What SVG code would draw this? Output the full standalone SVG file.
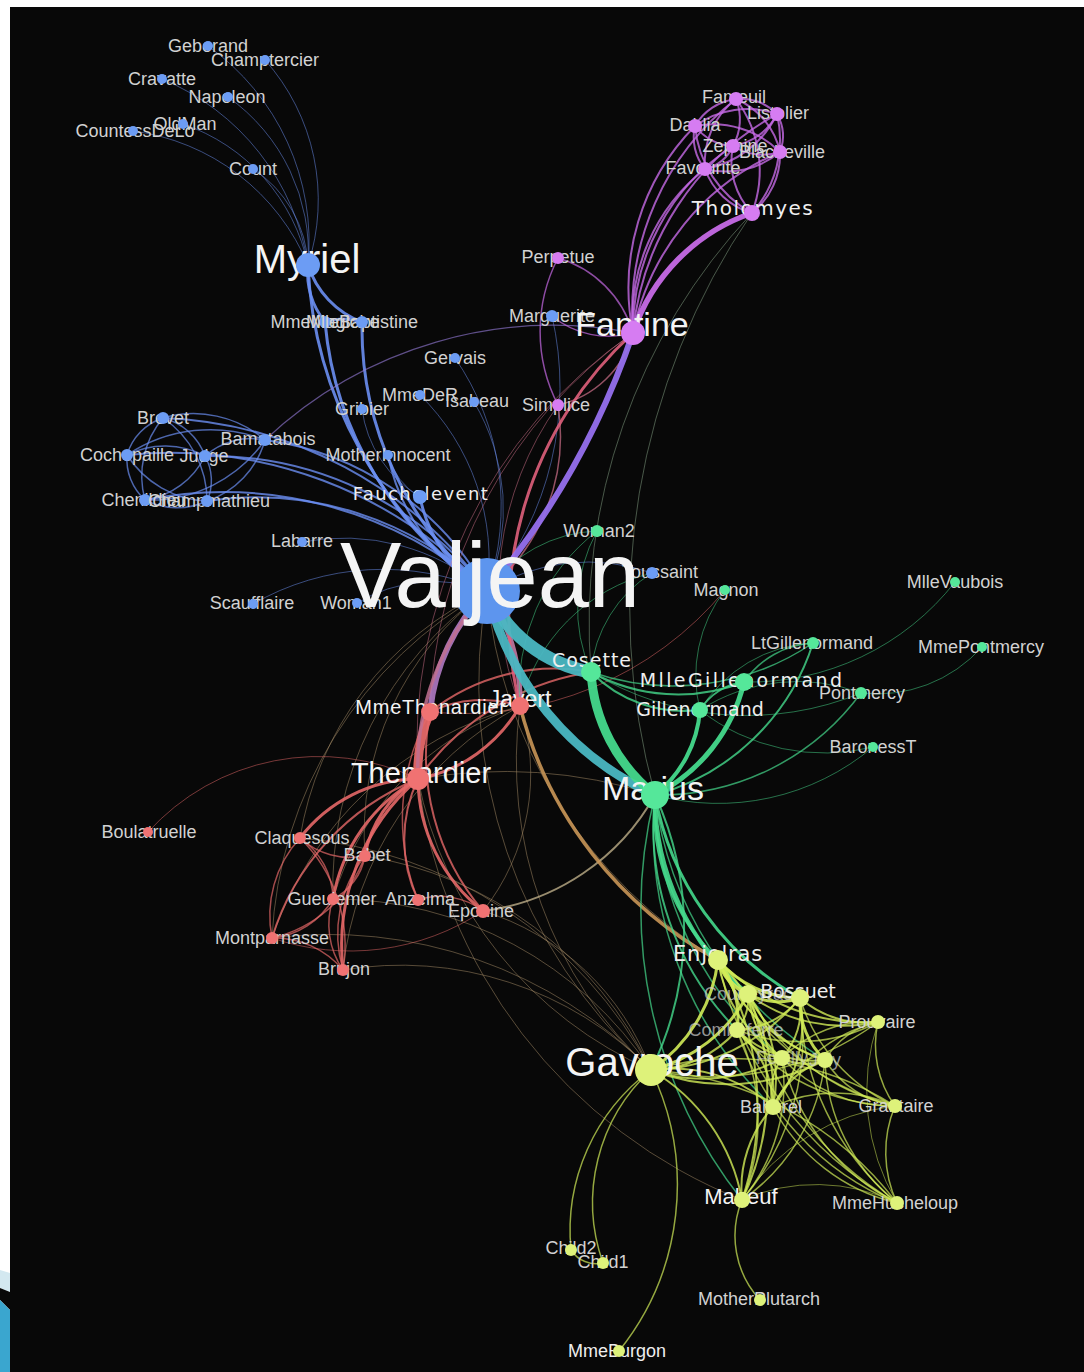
<svg xmlns="http://www.w3.org/2000/svg" width="1084" height="1372" viewBox="0 0 1084 1372">
<style>
#connectors path{fill:none;stroke-linecap:round}
.b{stroke:#6b8ff2}.p{stroke:#c66ae6}.r{stroke:#e56868}.g{stroke:#45d98c}.y{stroke:#d2ec58}.x{stroke:#a88e68}.k{stroke:#d0708a}
.t1{stroke-width:1;stroke-opacity:.5}.t15{stroke-width:1.5;stroke-opacity:.7}.t2{stroke-width:2;stroke-opacity:.8}.t3{stroke-width:3;stroke-opacity:.9}.t4{stroke-width:4;stroke-opacity:.92}.t5{stroke-width:5.5;stroke-opacity:.95}
.nb{fill:#6c9cf4}.np{fill:#d67cf2}.nr{fill:#f07272}.ng{fill:#55e79a}.ny{fill:#def27a}
.s{font-family:"Liberation Sans",Arial,sans-serif;font-size:18px;fill:#d2d2d2;text-anchor:middle}
.L{font-family:"Liberation Sans",Arial,sans-serif;fill:#f4f4f4;text-anchor:middle}
.D{font-family:"DejaVu Sans",sans-serif;fill:#efefef;text-anchor:middle}
</style>
<rect x="0" y="0" width="1084" height="1372" fill="#ffffff"/>
<rect x="10" y="7" width="1074" height="1365" fill="#080808"/>
<polygon points="0,1270 10,1273 10,1292 0,1288" fill="#d3e8f0"/>
<polygon points="0,1288 10,1292 10,1310 0,1300" fill="#080808"/>
<polygon points="0,1300 10,1310 10,1372 0,1372" fill="#3aa6cf"/>

<g id="connectors">
<g class="b t1">
<path d="M308 265 A240 240 0 0 0 208 46"/>
<path d="M308 265 A210 210 0 0 0 265 60"/>
<path d="M308 265 A240 240 0 0 0 162 79"/>
<path d="M308 265 A190 190 0 0 0 228 97"/>
<path d="M308 265 A190 190 0 0 0 183 124"/>
<path d="M308 265 A220 220 0 0 0 133 131"/>
<path d="M308 265 A120 120 0 0 0 253 169"/>
<path d="M388 455 A70 70 0 0 0 420 497"/>
<path d="M362 409 A120 120 0 0 0 420 497"/>
<path d="M487 591 A220 220 0 0 0 302 542"/>
<path d="M487 591 A260 260 0 0 0 253 604"/>
<path d="M487 591 A150 150 0 0 0 357 603"/>
<path d="M487 591 A260 260 0 0 0 455 358"/>
<path d="M487 591 A230 230 0 0 0 420 395"/>
<path d="M487 591 A210 210 0 0 0 474 402"/>
<path d="M487 591 A320 320 0 0 0 552 316"/>
<path d="M487 591 A190 190 0 0 1 652 573"/>
</g>
<g class="b t15">
<path d="M163 418 A60 60 0 0 1 205 456"/>
<path d="M163 418 A90 90 0 0 0 145 500"/>
<path d="M163 418 A55 55 0 0 0 127 455"/>
<path d="M163 418 A100 100 0 0 1 207 501"/>
<path d="M205 456 A80 80 0 0 1 145 500"/>
<path d="M205 456 A85 85 0 0 0 127 455"/>
<path d="M205 456 A50 50 0 0 1 207 501"/>
<path d="M145 500 A55 55 0 0 1 127 455"/>
<path d="M145 500 A70 70 0 0 0 207 501"/>
<path d="M127 455 A100 100 0 0 0 207 501"/>
<path d="M265 440 A70 70 0 0 0 205 456"/>
<path d="M265 440 A90 90 0 0 1 207 501"/>
<path d="M265 440 A110 110 0 0 0 163 418"/>
<path d="M265 440 A140 140 0 0 1 145 500"/>
<path d="M265 440 A150 150 0 0 0 127 455"/>
</g>
<g class="b t2">
<path d="M388 455 A200 200 0 0 0 487 591"/>
<path d="M487 591 A420 420 0 0 0 163 418"/>
<path d="M487 591 A430 430 0 0 0 127 455"/>
<path d="M487 591 A400 400 0 0 0 145 500"/>
<path d="M487 591 A350 350 0 0 0 205 456"/>
<path d="M487 591 A330 330 0 0 0 207 501"/>
<path d="M487 591 A300 300 0 0 0 265 440"/>
</g>
<g class="b t3">
<path d="M308 265 A90 90 0 0 0 362 322"/>
<path d="M308 265 A80 80 0 0 0 325 322"/>
<path d="M325 322 A60 60 0 0 1 362 322"/>
<path d="M308 265 A420 420 0 0 0 487 591"/>
<path d="M362 322 A340 340 0 0 0 487 591"/>
<path d="M325 322 A360 360 0 0 0 487 591"/>
<path d="M420 497 A140 140 0 0 0 487 591"/>
</g>
<path d="M633 333 A420 420 0 0 0 265 440" stroke="#9a7ee0" stroke-width="1.2" stroke-opacity=".6"/>
<g class="p t2">
<path d="M633 333 A280 280 0 0 1 777 114"/>
<path d="M633 333 A270 270 0 0 1 736 99"/>
<path d="M633 333 A250 250 0 0 1 780 152"/>
<path d="M633 333 A190 190 0 0 1 705 169"/>
<path d="M633 333 A230 230 0 0 1 695 126"/>
<path d="M633 333 A220 220 0 0 1 733 146"/>
<path d="M752 213 A110 110 0 0 0 777 114"/>
<path d="M752 213 A120 120 0 0 0 736 99"/>
<path d="M752 213 A75 75 0 0 0 780 152"/>
<path d="M752 213 A70 70 0 0 1 705 169"/>
<path d="M752 213 A110 110 0 0 1 695 126"/>
<path d="M752 213 A75 75 0 0 1 733 146"/>
<path d="M777 114 A50 50 0 0 0 736 99"/>
<path d="M777 114 A45 45 0 0 1 780 152"/>
<path d="M777 114 A100 100 0 0 1 705 169"/>
<path d="M777 114 A90 90 0 0 0 695 126"/>
<path d="M777 114 A60 60 0 0 1 733 146"/>
<path d="M736 99 A75 75 0 0 1 780 152"/>
<path d="M736 99 A80 80 0 0 0 705 169"/>
<path d="M736 99 A55 55 0 0 0 695 126"/>
<path d="M736 99 A55 55 0 0 1 733 146"/>
<path d="M780 152 A85 85 0 0 1 705 169"/>
<path d="M780 152 A95 95 0 0 0 695 126"/>
<path d="M780 152 A55 55 0 0 1 733 146"/>
<path d="M705 169 A50 50 0 0 1 695 126"/>
<path d="M705 169 A40 40 0 0 0 733 146"/>
<path d="M695 126 A50 50 0 0 0 733 146"/>
</g>
<g class="p t15">
<path d="M633 333 A90 90 0 0 1 552 316"/>
<path d="M558 258 A160 160 0 0 0 558 405"/>
<path d="M558 258 A110 110 0 0 1 633 333"/>
</g>
<path d="M633 333 A190 190 0 0 1 752 213" class="p t5"/>
<g class="k t15">
<path d="M558 405 A100 100 0 0 0 633 333"/>
<path d="M558 405 A200 200 0 0 1 487 591"/>
</g>
<g class="k t1">
<path d="M558 405 A320 320 0 0 0 520 706"/>
<path d="M633 333 A500 500 0 0 0 418 779"/>
<path d="M633 333 A480 480 0 0 0 430 712"/>
</g>
<g stroke="#8aa88a" stroke-width="1" stroke-opacity=".5">
<path d="M752 213 A700 700 0 0 0 655 795"/>
<path d="M752 213 A600 600 0 0 0 591 672"/>
</g>
<g class="x t1">
<path d="M418 779 A400 400 0 0 0 651 1070"/>
<path d="M520 706 A420 420 0 0 0 651 1070"/>
<path d="M487 591 A520 520 0 0 0 651 1070"/>
<path d="M365 856 A380 380 0 0 1 651 1070"/>
<path d="M333 899 A380 380 0 0 1 651 1070"/>
<path d="M272 938 A450 450 0 0 1 651 1070"/>
<path d="M343 970 A350 350 0 0 1 651 1070"/>
<path d="M300 838 A440 440 0 0 1 651 1070"/>
<path d="M418 779 A500 500 0 0 1 655 795"/>
<path d="M487 591 A480 480 0 0 0 718 960"/>
<path d="M520 706 A360 360 0 0 0 272 938"/>
<path d="M520 706 A340 340 0 0 0 343 970"/>
<path d="M520 706 A290 290 0 0 0 333 899"/>
<path d="M520 706 A220 220 0 0 1 483 911"/>
<path d="M487 591 A330 330 0 0 0 300 838"/>
<path d="M487 591 A300 300 0 0 0 365 856"/>
<path d="M487 591 A360 360 0 0 0 333 899"/>
<path d="M487 591 A420 420 0 0 0 272 938"/>
<path d="M483 911 A260 260 0 0 1 651 1070"/>
<path d="M418 779 A520 520 0 0 0 742 1200"/>
</g>
<path d="M483 911 A230 230 0 0 0 655 795" stroke="#c8b890" stroke-width="2" stroke-opacity=".75"/>
<g class="r t15">
<path d="M300 838 A75 75 0 0 0 365 856"/>
<path d="M300 838 A75 75 0 0 1 333 899"/>
<path d="M300 838 A115 115 0 0 0 272 938"/>
<path d="M300 838 A150 150 0 0 1 343 970"/>
<path d="M365 856 A60 60 0 0 1 333 899"/>
<path d="M365 856 A130 130 0 0 1 272 938"/>
<path d="M365 856 A125 125 0 0 0 343 970"/>
<path d="M333 899 A80 80 0 0 1 272 938"/>
<path d="M333 899 A80 80 0 0 0 343 970"/>
<path d="M272 938 A90 90 0 0 1 343 970"/>
<path d="M430 712 A220 220 0 0 0 418 900"/>
<path d="M483 911 A70 70 0 0 0 418 900"/>
</g>
<g class="r t1">
<path d="M148 832 A230 230 0 0 1 418 779"/>
<path d="M483 911 A240 240 0 0 1 272 938"/>
<path d="M725 590 A340 340 0 0 1 430 712"/>
</g>
<g class="r t2">
<path d="M418 779 A250 250 0 0 0 272 938"/>
<path d="M418 779 A140 140 0 0 0 418 900"/>
<path d="M430 712 A240 240 0 0 0 483 911"/>
<path d="M520 706 A120 120 0 0 0 430 712"/>
<path d="M430 712 A200 200 0 0 1 591 672"/>
<path d="M418 779 A260 260 0 0 1 591 672"/>
</g>
<g class="r t3">
<path d="M418 779 A150 150 0 0 0 300 838"/>
<path d="M418 779 A110 110 0 0 0 365 856"/>
<path d="M418 779 A170 170 0 0 0 333 899"/>
<path d="M418 779 A220 220 0 0 0 343 970"/>
<path d="M418 779 A170 170 0 0 0 483 911"/>
<path d="M520 706 A150 150 0 0 1 418 779"/>
</g>
<path d="M430 712 A150 150 0 0 0 418 779" class="r" stroke-width="9" stroke-opacity=".95"/>
<path d="M487 591 A200 200 0 0 0 430 712" stroke="#b07ac4" stroke-width="6" stroke-opacity=".9"/>
<path d="M487 591 A260 260 0 0 0 418 779" stroke="#c07090" stroke-width="3.5" stroke-opacity=".85"/>
<path d="M487 591 A200 200 0 0 1 520 706" stroke="#c27aa4" stroke-width="5" stroke-opacity=".9"/>
<path d="M633 333 A380 380 0 0 0 520 706" stroke="#e0607c" stroke-width="3" stroke-opacity=".9"/>
<path d="M633 333 A800 800 0 0 1 487 591" stroke="#9670ee" stroke-width="6" stroke-opacity=".95"/>
<path d="M520 706 A400 400 0 0 0 718 960" stroke="#c99656" stroke-width="3.5" stroke-opacity=".9"/>
<g class="g t1">
<path d="M591 672 A300 300 0 0 0 861 693"/>
<path d="M591 672 A160 160 0 0 1 597 531"/>
<path d="M591 672 A130 130 0 0 1 652 573"/>
<path d="M655 795 A240 240 0 0 0 873 747"/>
<path d="M744 682 A260 260 0 0 0 955 582"/>
<path d="M982 647 A140 140 0 0 1 861 693"/>
<path d="M700 710 A200 200 0 0 0 873 747"/>
<path d="M700 710 A140 140 0 0 1 725 590"/>
<path d="M700 710 A180 180 0 0 1 861 693"/>
<path d="M700 710 A140 140 0 0 1 813 643"/>
<path d="M597 531 A200 200 0 0 0 520 706"/>
<path d="M487 591 A140 140 0 0 1 597 531"/>
<path d="M520 706 A180 180 0 0 1 652 573"/>
</g>
<g class="g t15">
<path d="M591 672 A250 250 0 0 0 813 643"/>
<path d="M744 682 A90 90 0 0 1 813 643"/>
<path d="M655 795 A250 250 0 0 0 861 693"/>
<path d="M655 795 A340 340 0 0 0 782 1058"/>
<path d="M655 795 A360 360 0 0 0 825 1060"/>
<path d="M655 795 A380 380 0 0 0 773 1107"/>
<path d="M655 795 A470 470 0 0 0 742 1200"/>
</g>
<g class="g t2">
<path d="M591 672 A180 180 0 0 0 744 682"/>
<path d="M591 672 A130 130 0 0 0 700 710"/>
<path d="M700 710 A60 60 0 0 1 744 682"/>
<path d="M655 795 A230 230 0 0 0 813 643"/>
<path d="M655 795 A290 290 0 0 0 737 1030"/>
<path d="M655 795 A320 320 0 0 1 651 1070"/>
</g>
<g class="g t3">
<path d="M655 795 A210 210 0 0 0 718 960"/>
<path d="M655 795 A290 290 0 0 0 800 998"/>
</g>
<path d="M655 795 A260 260 0 0 0 748 994" class="g t4"/>
<path d="M655 795 A170 170 0 0 0 744 682" class="g" stroke-width="5" stroke-opacity=".95"/>
<path d="M655 795 A120 120 0 0 0 700 710" class="g" stroke-width="4" stroke-opacity=".95"/>
<path d="M487 591 A300 300 0 0 0 655 795" stroke="#4ab7c2" stroke-width="9" stroke-opacity=".95"/>
<path d="M591 672 A170 170 0 0 0 655 795" class="g" stroke-width="9" stroke-opacity=".95"/>
<path d="M487 591 A140 140 0 0 0 591 672" stroke="#4ab7c2" stroke-width="13" stroke-opacity=".95"/>
<g class="y t1">
<path d="M878 1022 A220 220 0 0 0 897 1203"/>
<path d="M895 1106 A215 215 0 0 0 742 1200"/>
<path d="M742 1200 A185 185 0 0 1 897 1203"/>
</g>
<g class="y t15">
<path d="M651 1070 A280 280 0 0 0 878 1022"/>
<path d="M651 1070 A300 300 0 0 1 895 1106"/>
<path d="M651 1070 A340 340 0 0 1 897 1203"/>
<path d="M651 1070 A180 180 0 0 0 603 1263"/>
<path d="M651 1070 A200 200 0 0 0 571 1250"/>
<path d="M571 1250 A30 30 0 0 0 603 1263"/>
<path d="M651 1070 A265 265 0 0 1 619 1351"/>
<path d="M742 1200 A95 95 0 0 0 760 1300"/>
<path d="M718 960 A275 275 0 0 0 895 1106"/>
<path d="M718 960 A360 360 0 0 0 897 1203"/>
<path d="M748 994 A220 220 0 0 0 895 1106"/>
<path d="M748 994 A310 310 0 0 0 897 1203"/>
<path d="M800 998 A175 175 0 0 0 895 1106"/>
<path d="M800 998 A250 250 0 0 1 742 1200"/>
<path d="M800 998 A270 270 0 0 0 897 1203"/>
<path d="M737 1030 A170 170 0 0 0 878 1022"/>
<path d="M737 1030 A210 210 0 0 0 895 1106"/>
<path d="M737 1030 A205 205 0 0 1 742 1200"/>
<path d="M737 1030 A280 280 0 0 0 897 1203"/>
<path d="M782 1058 A125 125 0 0 1 878 1022"/>
<path d="M782 1058 A150 150 0 0 0 895 1106"/>
<path d="M782 1058 A180 180 0 0 1 742 1200"/>
<path d="M782 1058 A220 220 0 0 0 897 1203"/>
<path d="M825 1060 A80 80 0 0 1 878 1022"/>
<path d="M825 1060 A100 100 0 0 0 895 1106"/>
<path d="M825 1060 A195 195 0 0 1 742 1200"/>
<path d="M825 1060 A190 190 0 0 0 897 1203"/>
<path d="M878 1022 A160 160 0 0 0 773 1107"/>
<path d="M878 1022 A105 105 0 0 0 895 1106"/>
<path d="M773 1107 A145 145 0 0 1 895 1106"/>
<path d="M773 1107 A190 190 0 0 0 897 1203"/>
<path d="M895 1106 A120 120 0 0 0 897 1203"/>
</g>
<g class="y t2">
<path d="M651 1070 A200 200 0 0 0 800 998"/>
<path d="M651 1070 A115 115 0 0 0 737 1030"/>
<path d="M651 1070 A160 160 0 0 0 782 1058"/>
<path d="M651 1070 A210 210 0 0 0 825 1060"/>
<path d="M651 1070 A150 150 0 0 1 773 1107"/>
<path d="M651 1070 A190 190 0 0 1 742 1200"/>
<path d="M718 960 A140 140 0 0 0 782 1058"/>
<path d="M718 960 A175 175 0 0 0 825 1060"/>
<path d="M718 960 A205 205 0 0 0 878 1022"/>
<path d="M718 960 A190 190 0 0 1 773 1107"/>
<path d="M718 960 A290 290 0 0 1 742 1200"/>
<path d="M748 994 A50 50 0 0 1 737 1030"/>
<path d="M748 994 A90 90 0 0 0 782 1058"/>
<path d="M748 994 A120 120 0 0 0 825 1060"/>
<path d="M748 994 A160 160 0 0 0 878 1022"/>
<path d="M748 994 A140 140 0 0 1 773 1107"/>
<path d="M748 994 A250 250 0 0 1 742 1200"/>
<path d="M800 998 A85 85 0 0 1 737 1030"/>
<path d="M800 998 A75 75 0 0 1 782 1058"/>
<path d="M800 998 A100 100 0 0 0 878 1022"/>
<path d="M800 998 A135 135 0 0 1 773 1107"/>
<path d="M737 1030 A65 65 0 0 0 782 1058"/>
<path d="M737 1030 A110 110 0 0 0 825 1060"/>
<path d="M737 1030 A100 100 0 0 1 773 1107"/>
<path d="M782 1058 A50 50 0 0 0 825 1060"/>
<path d="M782 1058 A60 60 0 0 0 773 1107"/>
<path d="M825 1060 A85 85 0 0 0 773 1107"/>
<path d="M773 1107 A120 120 0 0 0 742 1200"/>
</g>
<g class="y t3">
<path d="M651 1070 A155 155 0 0 0 718 960"/>
<path d="M651 1070 A150 150 0 0 0 748 994"/>
<path d="M718 960 A110 110 0 0 0 800 998"/>
<path d="M718 960 A90 90 0 0 1 737 1030"/>
<path d="M748 994 A65 65 0 0 0 800 998"/>
<path d="M800 998 A80 80 0 0 0 825 1060"/>
</g>
<path d="M718 960 A55 55 0 0 0 748 994" class="y t4"/>
</g>

<g id="n-Geborand"><text class="s" x="208" y="52">Geborand</text><circle class="nb" cx="208" cy="46" r="5"/></g>
<g id="n-Champtercier"><text class="s" x="265" y="66">Champtercier</text><circle class="nb" cx="265" cy="60" r="5"/></g>
<g id="n-Cravatte"><text class="s" x="162" y="85">Cravatte</text><circle class="nb" cx="162" cy="79" r="5"/></g>
<g id="n-Napoleon"><text class="s" x="227" y="103">Napoleon</text><circle class="nb" cx="228" cy="97" r="5"/></g>
<g id="n-CountessDeLo"><text class="s" x="135" y="137">CountessDeLo</text><circle class="nb" cx="133" cy="131" r="5"/></g>
<g id="n-OldMan"><text class="s" x="185" y="130">OldMan</text><circle class="nb" cx="183" cy="124" r="5"/></g>
<g id="n-Count"><text class="s" x="253" y="175">Count</text><circle class="nb" cx="253" cy="169" r="5"/></g>
<g id="n-MmeMagloire"><text class="s" x="325" y="328">MmeMagloire</text><circle class="nb" cx="325" cy="322" r="6"/></g>
<g id="n-MlleBaptistine"><text class="s" x="362" y="328">MlleBaptistine</text><circle class="nb" cx="362" cy="322" r="6"/></g>
<g id="n-Gervais"><text class="s" x="455" y="364">Gervais</text><circle class="nb" cx="455" cy="358" r="5"/></g>
<g id="n-MmeDeR"><text class="s" x="420" y="401">MmeDeR</text><circle class="nb" cx="420" cy="395" r="5"/></g>
<g id="n-Isabeau"><text class="s" x="477" y="407">Isabeau</text><circle class="nb" cx="474" cy="402" r="5"/></g>
<g id="n-Gribier"><text class="s" x="362" y="415">Gribier</text><circle class="nb" cx="362" cy="409" r="5"/></g>
<g id="n-Brevet"><text class="s" x="163" y="424">Brevet</text><circle class="nb" cx="163" cy="418" r="6"/></g>
<g id="n-Bamatabois"><text class="s" x="268" y="445">Bamatabois</text><circle class="nb" cx="265" cy="440" r="6"/></g>
<g id="n-Cochepaille"><text class="s" x="127" y="461">Cochepaille</text><circle class="nb" cx="127" cy="455" r="6"/></g>
<g id="n-Judge"><text class="s" x="204" y="462">Judge</text><circle class="nb" cx="205" cy="456" r="6"/></g>
<g id="n-Chenildieu"><text class="s" x="144" y="506">Chenildieu</text><circle class="nb" cx="145" cy="500" r="6"/></g>
<g id="n-Champmathieu"><text class="s" x="209" y="507">Champmathieu</text><circle class="nb" cx="207" cy="501" r="6"/></g>
<g id="n-MotherInnocent"><text class="s" x="388" y="461">MotherInnocent</text><circle class="nb" cx="388" cy="455" r="5"/></g>
<g id="n-Labarre"><text class="s" x="302" y="547">Labarre</text><circle class="nb" cx="302" cy="542" r="5"/></g>
<g id="n-Scaufflaire"><text class="s" x="252" y="609">Scaufflaire</text><circle class="nb" cx="253" cy="604" r="5"/></g>
<g id="n-Woman1"><text class="s" x="356" y="609">Woman1</text><circle class="nb" cx="357" cy="603" r="5"/></g>
<g id="n-Marguerite"><text class="s" x="552" y="322">Marguerite</text><circle class="nb" cx="552" cy="316" r="6"/></g>
<g id="n-Toussaint"><text class="s" x="660" y="578">Toussaint</text><circle class="nb" cx="652" cy="573" r="6"/></g>
<g id="n-Fauchelevent"><text class="D" x="421" y="500" font-size="18" letter-spacing="1.4">Fauchelevent</text><circle class="nb" cx="420" cy="497" r="7"/></g>
<g id="n-Myriel"><text class="L" x="307" y="273" font-size="40">Myriel</text><circle class="nb" cx="308" cy="265" r="12"/></g>

<g id="n-Fameuil"><text class="s" x="734" y="103">Fameuil</text><circle class="np" cx="736" cy="99" r="7"/></g>
<g id="n-Listolier"><text class="s" x="778" y="119">Listolier</text><circle class="np" cx="777" cy="114" r="7"/></g>
<g id="n-Dahlia"><text class="s" x="695" y="131">Dahlia</text><circle class="np" cx="695" cy="126" r="7"/></g>
<g id="n-Zephine"><text class="s" x="735" y="152">Zephine</text><circle class="np" cx="733" cy="146" r="7"/></g>
<g id="n-Blacheville"><text class="s" x="782" y="158">Blacheville</text><circle class="np" cx="780" cy="152" r="7"/></g>
<g id="n-Favourite"><text class="s" x="703" y="174">Favourite</text><circle class="np" cx="705" cy="169" r="7"/></g>
<g id="n-Tholomyes"><text class="D" x="753" y="215" font-size="20" letter-spacing="1.5">Tholomyes</text><circle class="np" cx="752" cy="213" r="8"/></g>
<g id="n-Perpetue"><text class="s" x="558" y="263">Perpetue</text><circle class="np" cx="558" cy="258" r="6"/></g>
<g id="n-Simplice"><text class="s" x="556" y="411">Simplice</text><circle class="np" cx="558" cy="405" r="6"/></g>
<g id="n-Fantine"><text class="L" x="632" y="336" font-size="34">Fantine</text><circle class="np" cx="633" cy="333" r="12"/></g>

<g id="n-Boulatruelle"><text class="s" x="149" y="838">Boulatruelle</text><circle class="nr" cx="148" cy="832" r="5"/></g>
<g id="n-Claquesous"><text class="s" x="302" y="844">Claquesous</text><circle class="nr" cx="300" cy="838" r="6"/></g>
<g id="n-Babet"><text class="s" x="367" y="861">Babet</text><circle class="nr" cx="365" cy="856" r="6"/></g>
<g id="n-Gueulemer"><text class="s" x="332" y="905">Gueulemer</text><circle class="nr" cx="333" cy="899" r="6"/></g>
<g id="n-Anzelma"><text class="s" x="420" y="905">Anzelma</text><circle class="nr" cx="418" cy="900" r="6"/></g>
<g id="n-Eponine"><text class="s" x="481" y="917">Eponine</text><circle class="nr" cx="483" cy="911" r="7"/></g>
<g id="n-Montparnasse"><text class="s" x="272" y="944">Montparnasse</text><circle class="nr" cx="272" cy="938" r="6"/></g>
<g id="n-Brujon"><text class="s" x="344" y="975">Brujon</text><circle class="nr" cx="343" cy="970" r="6"/></g>
<g id="n-MmeThenardier"><text class="L" x="431" y="714" font-size="20" letter-spacing="0.8">MmeThenardier</text><circle class="nr" cx="430" cy="712" r="9"/></g>
<g id="n-Thenardier"><text class="L" x="421" y="783" font-size="29">Thenardier</text><circle class="nr" cx="418" cy="779" r="11"/></g>
<g id="n-Javert"><text class="L" x="520" y="707" font-size="23">Javert</text><circle class="nr" cx="520" cy="706" r="9"/></g>

<g id="n-Woman2"><text class="s" x="599" y="537">Woman2</text><circle class="ng" cx="597" cy="531" r="6"/></g>
<g id="n-Magnon"><text class="s" x="726" y="596">Magnon</text><circle class="ng" cx="725" cy="590" r="5"/></g>
<g id="n-MlleVaubois"><text class="s" x="955" y="588">MlleVaubois</text><circle class="ng" cx="955" cy="582" r="5"/></g>
<g id="n-LtGillenormand"><text class="s" x="812" y="649">LtGillenormand</text><circle class="ng" cx="813" cy="643" r="6"/></g>
<g id="n-MmePontmercy"><text class="s" x="981" y="653">MmePontmercy</text><circle class="ng" cx="982" cy="647" r="5"/></g>
<g id="n-Pontmercy"><text class="s" x="862" y="699">Pontmercy</text><circle class="ng" cx="861" cy="693" r="6"/></g>
<g id="n-BaronessT"><text class="s" x="873" y="753">BaronessT</text><circle class="ng" cx="873" cy="747" r="5"/></g>
<g id="n-Cosette"><text class="D" x="592" y="667" font-size="19" letter-spacing="1">Cosette</text><circle class="ng" cx="591" cy="672" r="10"/></g>
<g id="n-Gillenormand"><text class="D" x="700" y="716" font-size="19">Gillenormand</text><circle class="ng" cx="700" cy="710" r="8"/></g>
<g id="n-MlleGillenormand"><text class="D" x="742" y="687" font-size="19" letter-spacing="2.4">MlleGillenormand</text><circle class="ng" cx="744" cy="682" r="9"/></g>
<g id="n-Marius"><text class="L" x="653" y="800" font-size="34">Marius</text><circle class="ng" cx="655" cy="795" r="14"/></g>

<g id="n-Courfeyrac"><text class="s" x="748" y="1000" fill-opacity=".7">Courfeyrac</text><circle class="ny" cx="748" cy="994" r="9"/></g>
<g id="n-Bossuet"><text class="D" x="798" y="998" font-size="19">Bossuet</text><circle class="ny" cx="800" cy="998" r="9"/></g>
<g id="n-Combeferre"><text class="s" x="736" y="1036" fill-opacity=".7">Combeferre</text><circle class="ny" cx="737" cy="1030" r="8"/></g>
<g id="n-Feuilly"><text class="s" x="782" y="1064" fill-opacity=".6">Feuilly</text><circle class="ny" cx="782" cy="1058" r="8"/></g>
<g id="n-Joly"><text class="s" x="825" y="1066" fill-opacity=".7">Joly</text><circle class="ny" cx="825" cy="1060" r="8"/></g>
<g id="n-Prouvaire"><text class="s" x="877" y="1028">Prouvaire</text><circle class="ny" cx="878" cy="1022" r="7"/></g>
<g id="n-Bahorel"><text class="s" x="771" y="1113">Bahorel</text><circle class="ny" cx="773" cy="1107" r="8"/></g>
<g id="n-Grantaire"><text class="s" x="896" y="1112">Grantaire</text><circle class="ny" cx="895" cy="1106" r="7"/></g>
<g id="n-MmeHucheloup"><text class="s" x="895" y="1209">MmeHucheloup</text><circle class="ny" cx="897" cy="1203" r="7"/></g>
<g id="n-Child2"><text class="s" x="571" y="1254">Child2</text><circle class="ny" cx="571" cy="1250" r="6"/></g>
<g id="n-Child1"><text class="s" x="603" y="1268">Child1</text><circle class="ny" cx="603" cy="1263" r="6"/></g>
<g id="n-MotherPlutarch"><text class="s" x="759" y="1305">MotherPlutarch</text><circle class="ny" cx="760" cy="1300" r="6"/></g>
<g id="n-MmeBurgon"><text class="s" x="617" y="1357" style="fill:#eeeeee">MmeBurgon</text><circle class="ny" cx="619" cy="1351" r="6"/></g>
<g id="n-Mabeuf"><text class="L" x="741" y="1204" font-size="22">Mabeuf</text><circle class="ny" cx="742" cy="1200" r="8"/></g>
<g id="n-Enjolras"><text class="D" x="718" y="961" font-size="21" letter-spacing="0.8">Enjolras</text><circle class="ny" cx="718" cy="960" r="10"/></g>
<g id="n-Gavroche"><text class="L" x="652" y="1076" font-size="40">Gavroche</text><circle class="ny" cx="651" cy="1070" r="16"/></g>

<g id="n-Valjean"><circle cx="487" cy="591" r="33" fill="#5d95ee"/><text class="L" x="490" y="607" font-size="92">Valjean</text></g>
</svg>
